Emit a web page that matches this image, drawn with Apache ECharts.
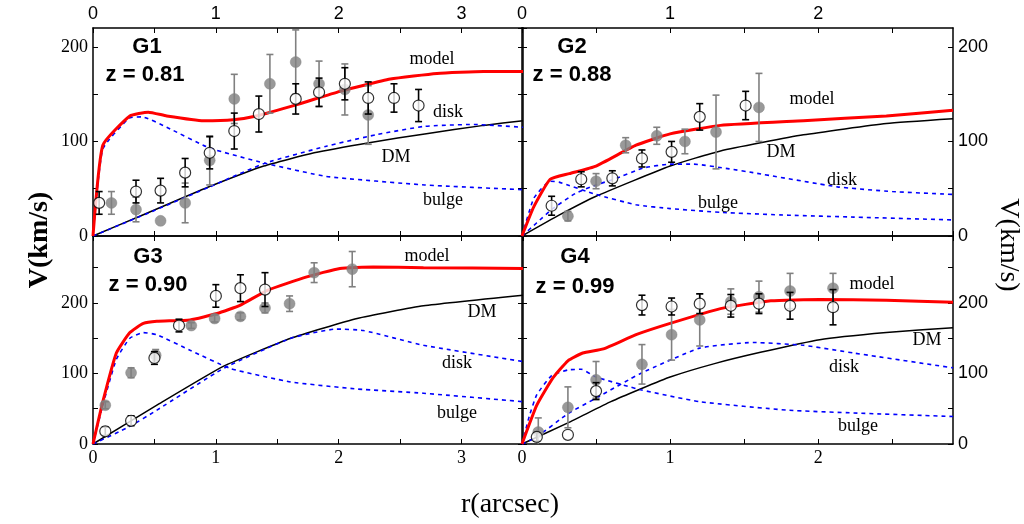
<!DOCTYPE html>
<html>
<head>
<meta charset="utf-8">
<script src="https://cdn.jsdelivr.net/npm/echarts@6/dist/echarts.min.js"></script>
<style>
  html, body { margin: 0; padding: 0; background: #fff; }
  #chart { width: 1024px; height: 524px; }
</style>
</head>
<body>
<div id="chart"></div>
<script>
// panel names and redshifts
const panelNames = ['G1', 'G2', 'G3', 'G4']
const panelZ = ['z = 0.81', 'z = 0.88', 'z = 0.90', 'z = 0.99']
const xMax = [3.5, 2.91, 3.5, 2.91]
const yMax = [220, 220, 295, 295]

// G1 model curves [r, V]
const g1Model = [[0, 0], [0.08, 96], [0.3, 127], [0.45, 131], [0.6, 127], [0.9, 122], [1.14, 123], [1.33, 127], [1.66, 139], [2.01, 153], [2.42, 166], [2.8, 172], [3.18, 174], [3.5, 174]]
const g1DM = [[0, 0], [0.4, 22], [0.76, 42], [1.0, 55], [1.39, 74], [1.8, 88], [2.26, 99], [2.7, 108], [3.18, 117], [3.5, 122]]
const g1Disk = [[0, 0], [0.5, 27], [0.95, 52], [1.4, 77], [1.9, 95], [2.3, 107], [2.7, 116], [3.1, 118], [3.5, 115]]
const g1Bulge = [[0, 0], [0.08, 92], [0.3, 125], [0.4, 126], [0.6, 115], [0.95, 93], [1.4, 77], [1.9, 63], [2.7, 54], [3.5, 49]]
// G1 data [r, V, err]
const g1Open = [[0.05, 35, 12], [0.35, 47, 12], [0.55, 48, 13], [0.75, 67, 15], [0.95, 88, 17], [1.15, 111, 19], [1.35, 129, 19], [1.65, 145, 16], [1.84, 152, 15], [2.05, 161, 17], [2.24, 146, 17], [2.45, 146, 15], [2.65, 138, 17]]
const g1Filled = [[0.15, 35, 12], [0.35, 28, 13], [0.55, 16, 0], [0.75, 35, 21], [0.95, 80, 26], [1.15, 145, 26], [1.44, 161, 31], [1.65, 184, 34], [1.84, 161, 24], [2.05, 155, 27], [2.24, 128, 31]]

// G2
const g2Model = [[0, 0], [0.08, 31], [0.19, 60], [0.32, 66], [0.5, 74], [0.77, 96], [1.0, 108], [1.34, 117], [1.9, 122], [2.46, 127], [2.91, 133]]
const g2DM = [[0, 0], [0.25, 22], [0.5, 42], [1.0, 74], [1.34, 90], [1.9, 107], [2.46, 119], [2.91, 124]]
const g2Disk = [[0, 0], [0.1, 14], [0.2, 28], [0.36, 45], [0.5, 54], [0.62, 60], [0.82, 72], [1.0, 76], [1.16, 76], [1.4, 71], [1.56, 67], [2.13, 52], [2.5, 47], [2.91, 44]]
const g2Bulge = [[0, 0], [0.08, 40], [0.19, 58], [0.25, 57], [0.5, 44], [0.77, 33], [1.0, 29], [1.34, 25], [1.8, 22], [2.24, 20], [2.91, 17]]
const g2Open = [[0.2, 32, 10], [0.4, 60, 8], [0.61, 61, 8], [0.81, 82, 9], [1.01, 89, 11], [1.2, 126, 14], [1.51, 138, 15]]
const g2Filled = [[0.31, 21, 5], [0.5, 58, 8], [0.7, 96, 8], [0.91, 106, 9], [1.1, 100, 13], [1.31, 110, 39], [1.6, 136, 36]]

// G3
const g3Model = [[0, 0], [0.08, 60], [0.19, 129], [0.3, 158], [0.41, 171], [0.52, 174], [0.79, 176], [1.01, 185], [1.2, 197], [1.42, 218], [1.74, 237], [2.01, 249], [2.28, 251], [2.69, 250], [3.5, 249]]
const g3DM = [[0, 0], [0.52, 55], [1.06, 110], [1.61, 150], [2.15, 178], [2.69, 196], [3.5, 211]]
const g3Disk = [[0, 0], [0.3, 25], [0.52, 48], [1.06, 107], [1.61, 150], [1.98, 163], [2.2, 161], [2.69, 140], [3.5, 117]]
const g3Bulge = [[0, 0], [0.08, 55], [0.19, 120], [0.3, 150], [0.41, 158], [0.52, 155], [0.79, 133], [1.12, 107], [1.61, 88], [2.15, 78], [2.69, 72], [3.5, 60]]
const g3Open = [[0.1, 18, 6], [0.31, 33, 7], [0.5, 122, 9], [0.7, 168, 9], [1.0, 210, 16], [1.2, 221, 19], [1.4, 219, 24]]
const g3Filled = [[0.1, 55, 5], [0.31, 101, 7], [0.51, 126, 8], [0.8, 168, 4], [0.99, 178, 5], [1.2, 181, 5], [1.4, 193, 7], [1.6, 199, 11], [1.8, 243, 14], [2.11, 248, 25]]

// G4
const g4Model = [[0, 0], [0.1, 55], [0.21, 94], [0.31, 118], [0.41, 129], [0.55, 135], [0.77, 155], [1.0, 171], [1.34, 192], [1.68, 203], [2.01, 205], [2.46, 204], [2.91, 201]]
const g4DM = [[0, 0], [0.31, 30], [0.6, 60], [0.8, 78], [1.0, 95], [1.3, 114], [1.61, 130], [2.01, 148], [2.46, 158], [2.91, 165]]
const g4Disk = [[0, 0], [0.1, 10], [0.31, 43], [0.5, 65], [0.8, 100], [1.2, 136], [1.56, 144], [1.9, 140], [2.24, 129], [2.91, 108]]
const g4Bulge = [[0, 0], [0.05, 40], [0.1, 70], [0.2, 97], [0.31, 105], [0.4, 106], [0.5, 95], [0.8, 77], [1.2, 60], [1.79, 48], [2.24, 44], [2.91, 39]]
const g4Open = [[0.1, 10, 6], [0.31, 13, 0], [0.5, 75, 12], [0.81, 197, 14], [1.01, 195, 12], [1.2, 199, 14], [1.41, 196, 16], [1.6, 199, 14], [1.81, 196, 19], [2.1, 194, 25]]
const g4Filled = [[0.11, 17, 20], [0.31, 52, 29], [0.5, 91, 26], [0.81, 113, 28], [1.01, 155, 36], [1.2, 176, 37], [1.41, 202, 18], [1.6, 209, 22], [1.81, 217, 25], [2.1, 221, 21]]

const panels = [
  { model: g1Model, dm: g1DM, disk: g1Disk, bulge: g1Bulge, open: g1Open, filled: g1Filled },
  { model: g2Model, dm: g2DM, disk: g2Disk, bulge: g2Bulge, open: g2Open, filled: g2Filled },
  { model: g3Model, dm: g3DM, disk: g3Disk, bulge: g3Bulge, open: g3Open, filled: g3Filled },
  { model: g4Model, dm: g4DM, disk: g4Disk, bulge: g4Bulge, open: g4Open, filled: g4Filled }
]

// grid boxes (left panels / right panels, top / bottom)
const grids = [
  { left: 93, top: 28, width: 430, height: 208 },
  { left: 522, top: 28, width: 431, height: 208 },
  { left: 93, top: 236, width: 430, height: 208 },
  { left: 522, top: 236, width: 431, height: 208 }
]

const SERIF = 'Liberation Serif'
const SANS = 'Liberation Sans'

const tickStyle = { color: '#000', width: 1 }

function xAxisOf (i, pos, showLabel) {
  return {
    type: 'value', gridIndex: i, position: pos, min: 0, max: xMax[i], interval: 0.5,
    axisLine: { show: true, onZero: false, lineStyle: { color: '#000', width: 1.5 } },
    axisTick: { show: true, inside: true, length: 5, lineStyle: tickStyle },
    axisLabel: {
      show: showLabel, color: '#000', fontSize: 18, margin: 5,
      fontFamily: pos === 'top' ? SANS : SERIF,
      showMaxLabel: false,
      formatter: v => (Number.isInteger(v) ? String(v) : '')
    },
    splitLine: { show: false }
  }
}

function yAxisOf (i, pos, showLabel) {
  return {
    type: 'value', gridIndex: i, position: pos, min: 0, max: yMax[i], interval: 50,
    axisLine: { show: true, onZero: false, lineStyle: { color: '#000', width: 1.5 } },
    axisTick: { show: true, inside: true, length: 5, lineStyle: tickStyle },
    axisLabel: {
      show: showLabel, color: '#000', fontSize: 18, margin: 5,
      fontFamily: pos === 'left' ? SERIF : SANS,
      showMaxLabel: false,
      formatter: v => (v % 100 === 0 ? String(v) : '')
    },
    splitLine: { show: false }
  }
}

const xAxes = []
const yAxes = []
for (let i = 0; i < 4; i++) {
  xAxes.push(xAxisOf(i, 'bottom', i >= 2))
  xAxes.push(xAxisOf(i, 'top', i < 2))
  yAxes.push(yAxisOf(i, 'left', i % 2 === 0))
  yAxes.push(yAxisOf(i, 'right', i % 2 === 1))
}

function lineSeries (data, i, color, width, dash, z) {
  return {
    type: 'line', xAxisIndex: 2 * i, yAxisIndex: 2 * i, data,
    showSymbol: false, symbol: 'none', smooth: 0.15, clip: true, z,
    lineStyle: { color, width, type: dash || 'solid' },
    silent: true
  }
}

function errorSeries (data, i, color, z) {
  return {
    type: 'custom', xAxisIndex: 2 * i, yAxisIndex: 2 * i, data, z, clip: true,
    encode: { x: 0, y: 1 },
    renderItem: (params, api) => {
      const r = api.value(0), v = api.value(1), e = api.value(2)
      if (!e) return
      const hi = api.coord([r, v + e])
      const lo = api.coord([r, v - e])
      const cap = 3.5
      const st = { stroke: color, lineWidth: 1.6 }
      return {
        type: 'group',
        children: [
          { type: 'line', shape: { x1: hi[0], y1: hi[1], x2: lo[0], y2: lo[1] }, style: st },
          { type: 'line', shape: { x1: hi[0] - cap, y1: hi[1], x2: hi[0] + cap, y2: hi[1] }, style: st },
          { type: 'line', shape: { x1: lo[0] - cap, y1: lo[1], x2: lo[0] + cap, y2: lo[1] }, style: st }
        ]
      }
    }
  }
}

function pointSeries (data, i, open, z) {
  return {
    type: 'scatter', xAxisIndex: 2 * i, yAxisIndex: 2 * i, z,
    data: data.map(d => [d[0], d[1]]),
    symbol: 'circle', symbolSize: 11,
    itemStyle: open
      ? { color: '#fff', borderColor: '#000', borderWidth: 1.2 }
      : { color: '#808080', borderColor: '#808080', borderWidth: 0.5 }
  }
}

const series = []
panels.forEach((p, i) => {
  series.push(lineSeries(p.dm, i, '#000', 1.5, null, 2))
  series.push(lineSeries(p.disk, i, '#0000ff', 1.6, [4, 4], 2))
  series.push(lineSeries(p.bulge, i, '#0000ff', 1.6, [4, 4], 2))
  series.push(lineSeries(p.model, i, '#ff0000', 3, null, 3))
  series.push(errorSeries(p.filled, i, '#808080', 4))
  series.push(pointSeries(p.filled, i, false, 5))
  series.push(errorSeries(p.open, i, '#000', 6))
  series.push(pointSeries(p.open, i, true, 7))
})

// annotation text positions inside each panel
const curveLabels = [
  [['model', 432, 59], ['disk', 448, 112], ['DM', 396, 157], ['bulge', 443, 200]],
  [['model', 812, 99], ['DM', 781, 152], ['disk', 842, 180], ['bulge', 718, 203]],
  [['model', 427, 256], ['DM', 482, 312], ['disk', 457, 363], ['bulge', 457, 413]],
  [['model', 872, 284], ['DM', 927, 340], ['disk', 844, 367], ['bulge', 858, 426]]
]
const titlePos = [[147, 47, 145, 75], [572, 47, 572, 75], [148, 257, 148, 285], [575, 257, 575, 287]]

const graphics = []
panels.forEach((p, i) => {
  const t = titlePos[i]
  graphics.push({ type: 'text', x: t[0], y: t[1], z: 100,
    style: { text: panelNames[i], font: 'bold 22px "Liberation Sans"', fill: '#000', align: 'center', verticalAlign: 'middle' } })
  graphics.push({ type: 'text', x: t[2], y: t[3], z: 100,
    style: { text: panelZ[i], font: 'bold 22px "Liberation Sans"', fill: '#000', align: 'center', verticalAlign: 'middle' } })
  curveLabels[i].forEach(l => {
    graphics.push({ type: 'text', x: l[1], y: l[2], z: 100,
      style: { text: l[0], font: '18px "Liberation Serif"', fill: '#000', align: 'center', verticalAlign: 'middle' } })
  })
})
graphics.push({ type: 'text', x: 40, y: 240, rotation: Math.PI / 2, z: 100,
  style: { text: 'V(km/s)', font: 'bold 28px "Liberation Serif"', fill: '#000', align: 'center', verticalAlign: 'middle' } })
graphics.push({ type: 'text', x: 1008, y: 245, rotation: -Math.PI / 2, z: 100,
  style: { text: 'V(km/s)', font: '28px "Liberation Serif"', fill: '#000', align: 'center', verticalAlign: 'middle' } })
graphics.push({ type: 'text', x: 510, y: 505, z: 100,
  style: { text: 'r(arcsec)', font: '28px "Liberation Serif"', fill: '#000', align: 'center', verticalAlign: 'middle' } })

const chart = echarts.init(document.getElementById('chart'), null, { renderer: 'canvas' })
chart.setOption({
  backgroundColor: '#fff',
  animation: false,
  grid: grids,
  xAxis: xAxes,
  yAxis: yAxes,
  series,
  graphic: graphics
})
window.addEventListener('resize', () => chart.resize())
</script>
</body>
</html>
